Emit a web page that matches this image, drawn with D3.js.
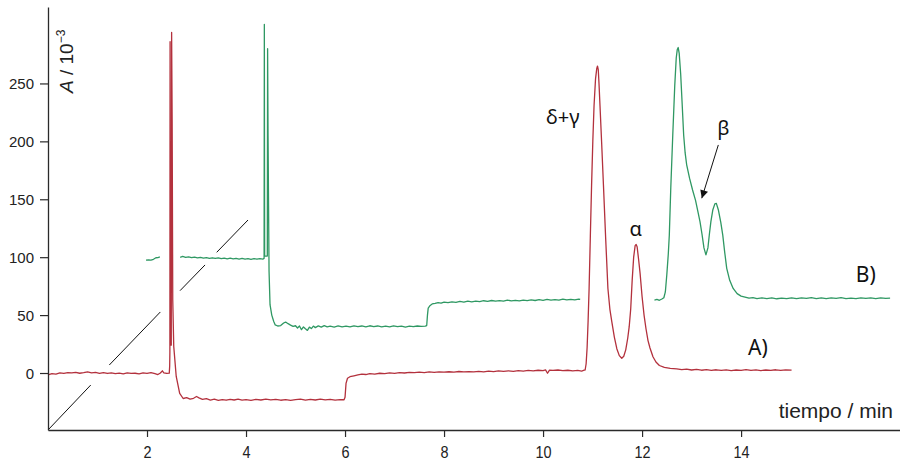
<!DOCTYPE html>
<html><head><meta charset="utf-8">
<script src="https://cdn.jsdelivr.net/npm/d3@7"></script>
<style>
html,body{margin:0;padding:0;background:#fff;}
svg{display:block;}
</style></head>
<body>
<svg id="chart" width="900" height="464"></svg>
<script>
// ---------- data (time / min, A / 10^-3) ----------
const xTicks = [2, 4, 6, 8, 10, 12, 14];
const yTicks = [0, 50, 100, 150, 200, 250];

const traceA = [
[0.00,-1.6],[0.08,-0.6],[0.16,-0.9],[0.24,0.2],[0.32,-0.3],[0.40,0.4],[0.48,0.1],[0.56,0.6],[0.64,-0.2],[0.72,0.3],[0.80,0.9],[0.88,0.2],[0.96,0.5],[1.04,-0.3],[1.12,0.4],[1.20,-0.4],[1.28,0.1],[1.36,-0.6],[1.44,-0.1],[1.52,-0.8],[1.60,0.2],[1.68,-0.4],[1.76,-0.2],[1.84,-0.7],[1.92,0.1],[2.00,-0.3],[2.08,0.4],[2.16,-0.5],[2.22,-1.3],[2.27,0.0],[2.31,1.9],[2.34,0.2],[2.40,-0.4],[2.45,-0.1],
[2.458,6],[2.462,18],[2.466,286],[2.472,24],[2.490,24],[2.497,294],[2.508,218],[2.520,63],[2.540,23],[2.590,-3],[2.660,-17.5],[2.730,-22],[2.80,-21.3],[2.87,-22.6],[2.94,-21.8],[3.00,-20.3],[3.05,-21.5],[3.12,-22.8],[3.20,-22.1],[3.28,-23.4],[3.36,-22.6],[3.44,-23.6],[3.52,-22.9],[3.60,-23.5],[3.68,-22.7],[3.76,-23.3],[3.84,-22.6],[3.92,-23.4],[4.00,-22.9],[4.10,-23.6],[4.20,-22.8],[4.30,-23.3],[4.40,-22.5],[4.50,-23.2],[4.60,-22.7],[4.70,-23.5],[4.80,-22.9],[4.90,-23.6],[5.00,-23.0],[5.10,-22.6],[5.20,-23.4],[5.30,-22.8],[5.40,-23.3],[5.50,-22.6],[5.60,-23.2],[5.70,-22.7],[5.80,-23.4],[5.90,-22.9],[5.98,-23.1],
[6.00,-21],[6.02,-9],[6.05,-4.5],[6.10,-3.2],[6.18,-2.4],[6.26,-1.6],[6.34,-0.9],[6.42,-1.3],[6.50,-0.5],[6.60,-0.9],[6.70,-0.2],[6.80,-0.6],[6.90,0.1],[7.00,-0.3],[7.10,0.4],[7.20,0.0],[7.30,0.6],[7.40,0.3],[7.50,0.8],[7.60,0.4],[7.70,0.9],[7.80,0.5],[7.90,1.0],[8.00,0.7],[8.10,1.1],[8.20,0.8],[8.30,1.3],[8.40,0.9],[8.50,1.2],[8.60,0.9],[8.70,1.4],[8.80,1.0],[8.90,1.6],[9.00,1.2],[9.10,1.8],[9.20,1.4],[9.30,1.9],[9.40,1.5],[9.50,2.0],[9.60,1.7],[9.70,2.3],[9.80,1.9],[9.90,2.4],[10.00,2.1],[10.05,2.7],[10.09,-0.2],[10.13,2.5],[10.20,2.2],[10.30,2.6],[10.40,2.0],[10.50,2.4],[10.60,1.9],[10.70,2.2],[10.78,1.7],[10.83,2.4],
[10.85,2.6],[10.87,8],[10.89,22],[10.91,45],[10.93,73],[10.955,118],[10.98,162],[11.005,200],[11.03,231],[11.06,254],[11.085,263],[11.10,265],[11.115,262],[11.13,250],[11.15,231],[11.185,197],[11.22,162],[11.265,116],[11.31,73],[11.35,55],[11.39,44],[11.44,31],[11.49,21],[11.54,15],[11.59,12.7],
[11.63,14.5],[11.67,20],[11.71,30],[11.74,40],[11.77,55],[11.80,80],[11.83,100],[11.86,110],[11.88,111],[11.90,109],[11.93,98],[11.96,86],[12.00,66],[12.04,50],[12.08,38],[12.12,28],[12.16,21.6],[12.22,14],[12.28,9.5],[12.35,6.5],[12.45,4.8],[12.57,4.0],
[12.70,3.5],[12.80,2.9],[12.90,3.3],[13.00,2.6],[13.10,3.2],[13.20,2.4],[13.30,2.9],[13.40,2.3],[13.50,2.8],[13.60,2.2],[13.70,2.7],[13.80,2.1],[13.90,2.6],[14.00,2.3],[14.10,2.9],[14.20,2.2],[14.30,2.7],[14.40,2.1],[14.50,2.6],[14.60,2.3],[14.70,2.8],[14.80,2.2],[14.90,2.7],[15.02,2.5]
];

const traceB = [
[1.98,97.4],[2.03,97.6],[2.08,97.5],[2.13,98.2],[2.18,99.5],[2.22,99.7],[2.26,100.3],[2.45,null],
[2.67,99.9],[2.72,100.6],[2.78,99.8],[2.84,100.3],[2.90,99.6],[2.96,100.1],[3.02,99.4],[3.08,99.9],[3.14,99.2],[3.20,99.7],[3.26,99.0],[3.32,99.5],[3.38,98.9],[3.44,99.4],[3.50,98.7],[3.56,99.2],[3.62,98.6],[3.68,99.1],[3.74,98.5],[3.80,99.0],[3.86,98.4],[3.92,98.9],[3.98,98.3],[4.04,98.8],[4.10,98.2],[4.16,98.7],[4.22,98.3],[4.28,98.8],[4.34,98.4],[4.365,98.9],
[4.370,301],[4.376,101],[4.430,101],[4.436,280],[4.445,205],[4.455,145],[4.465,88],[4.485,59],[4.52,50],[4.56,44.5],[4.59,41.5],[4.64,40.6],[4.70,41.0],[4.76,43.2],[4.80,44.0],[4.85,42.6],[4.90,41.4],[4.95,40.3],[5.00,40.8],[5.04,38.9],[5.08,40.6],[5.12,37.4],[5.16,39.8],[5.20,38.2],[5.24,36.8],[5.28,39.6],[5.32,38.4],[5.36,40.5],[5.40,39.2],[5.46,40.7],[5.52,39.6],[5.58,40.9],[5.64,39.8],[5.70,40.4],[5.78,39.7],[5.86,40.6],[5.94,39.9],[6.02,40.5],[6.10,39.8],[6.18,40.7],[6.26,40.0],[6.34,40.6],[6.42,39.9],[6.50,40.8],[6.58,40.1],[6.66,40.6],[6.74,39.8],[6.82,40.4],[6.90,39.9],[6.98,40.7],[7.06,40.1],[7.14,40.5],[7.22,39.7],[7.30,40.4],[7.38,40.0],[7.46,40.6],[7.54,40.2],[7.62,40.5],[7.65,41.0],
[7.665,50],[7.68,56],[7.72,58.3],[7.76,59.6],[7.82,60.1],[7.88,60.8],[7.94,60.3],[8.00,61.2],[8.08,60.7],[8.16,61.5],[8.24,61.0],[8.32,61.8],[8.40,61.2],[8.48,62.1],[8.56,61.5],[8.64,62.0],[8.72,61.6],[8.80,62.4],[8.88,61.9],[8.96,62.6],[9.04,62.0],[9.12,62.5],[9.20,62.1],[9.28,62.9],[9.36,62.3],[9.44,62.8],[9.52,62.2],[9.60,63.0],[9.68,62.5],[9.76,63.1],[9.84,62.6],[9.92,63.3],[10.00,62.8],[10.08,63.5],[10.16,62.9],[10.24,63.4],[10.32,62.9],[10.40,63.7],[10.48,63.1],[10.56,63.6],[10.64,63.2],[10.72,63.8],[10.75,63.5],[11.5,null],
[12.25,63.0],[12.30,63.6],[12.35,62.8],[12.40,63.9],[12.44,65.0],[12.47,70],[12.50,85],[12.53,103],[12.55,119],[12.58,160],[12.62,205.5],[12.66,248],[12.69,272],[12.71,279],[12.73,281],[12.75,276],[12.78,258],[12.81,232],[12.84,205.5],[12.87,190],[12.90,180],[12.96,168],[13.02,158],[13.08,149],[13.13,139],[13.17,130.7],[13.21,120],[13.25,108],[13.29,102],[13.33,108],[13.36,120],[13.39,130.7],[13.43,141],[13.47,146],[13.50,146.5],[13.54,141],[13.59,130],[13.63,119],[13.67,104],[13.71,90.4],[13.77,80],[13.84,73],[13.92,68.5],[14.00,66.4],[14.08,65.6],[14.16,64.6],[14.24,65.1],[14.32,64.3],[14.42,64.9],[14.52,64.2],[14.62,64.8],[14.72,64.1],[14.82,64.7],[14.92,64.3],[15.02,64.9],[15.12,64.2],[15.22,64.8],[15.32,64.4],[15.42,65.0],[15.52,64.3],[15.62,64.9],[15.72,64.2],[15.82,64.8],[15.92,64.4],[16.02,65.0],[16.12,64.3],[16.22,64.7],[16.32,64.2],[16.42,64.9],[16.52,64.4],[16.62,64.8],[16.72,64.3],[16.82,64.9],[16.92,64.4],[17.01,64.6]
];

// broken diagonal offset line: [t0, v0, t1, v1]
const diagSegments = [
[0.000,-49.2,0.863,-10.4],
[1.238,6.9,2.269,52.7],
[2.667,71.1,3.172,93.3],
[3.408,104.2,4.040,132.1]
];

// annotations: [text, t, v]
const peakLabels = [["δ+γ",10.40,221],["α",11.87,124.8],["β",13.64,211.6]];
const traceLabels = [["A)",14.34,22.5],["B)",16.52,85]];
const betaArrow = [13.54,196.9,13.206,150.9];

// ---------- scales ----------
const svg = d3.select("#chart");
const x = d3.scaleLinear().domain([0, 17.21]).range([48, 900]);
const y = d3.scaleLinear().domain([-49.2, 316]).range([430, 7]);

const red = "#b3313d", green = "#2f9863", axisCol = "#2a2a2a";

// diagonal dashes
svg.append("g").selectAll("line").data(diagSegments).join("line")
  .attr("x1", d => x(d[0])).attr("y1", d => y(d[1]))
  .attr("x2", d => x(d[2])).attr("y2", d => y(d[3]))
  .attr("stroke", "#111").attr("stroke-width", 1);

// traces
const line = d3.line().defined(d => d[1] !== null).x(d => x(d[0])).y(d => y(d[1]));
svg.append("path").datum(traceB).attr("d", line)
  .attr("fill", "none").attr("stroke", green).attr("stroke-width", 1.3).attr("stroke-linejoin", "round");
svg.append("path").datum(traceA).attr("d", line)
  .attr("fill", "none").attr("stroke", red).attr("stroke-width", 1.3).attr("stroke-linejoin", "round");

// axes
const yAxis = svg.append("g").attr("transform", "translate(48,0)")
  .call(d3.axisLeft(y).tickValues(yTicks).tickSize(8).tickSizeOuter(0).tickPadding(6));
yAxis.select(".domain").attr("stroke", axisCol).attr("stroke-width", 1.3);
yAxis.selectAll(".tick line").attr("stroke", axisCol).attr("stroke-width", 1.2);
yAxis.selectAll(".tick text").attr("font-family", "'Liberation Sans', Arial, sans-serif")
  .attr("font-size", 15).attr("fill", "#222").attr("x", -14).attr("dy", "0.36em");

const xAxis = svg.append("g").attr("transform", "translate(0,430)")
  .call(d3.axisBottom(x).tickValues(xTicks).tickSize(7).tickSizeOuter(0));
xAxis.select(".domain").attr("stroke", axisCol).attr("stroke-width", 1.3);
xAxis.selectAll(".tick line").attr("stroke", axisCol).attr("stroke-width", 1.2);
xAxis.selectAll(".tick text").attr("font-family", "'Liberation Sans', Arial, sans-serif")
  .attr("font-size", 17).attr("fill", "#222").attr("y", 28).attr("dy", 0)
  .attr("transform", "scale(0.85,1)");

// axis titles
svg.append("text").attr("x", 893).attr("y", 418).attr("text-anchor", "end")
  .attr("font-family", "'Liberation Sans', Arial, sans-serif").attr("font-size", 21)
  .attr("fill", "#222").text("tiempo / min");

const yt = svg.append("text").attr("transform", "translate(73,93) rotate(-90)")
  .attr("font-family", "'Liberation Sans', Arial, sans-serif").attr("font-size", 19).attr("fill", "#222");
yt.append("tspan").attr("font-style", "italic").text("A");
yt.append("tspan").text(" / 10");
yt.append("tspan").attr("font-size", 12).attr("dy", -8).text("−3");

// labels
const labFont = "'Noto Sans', 'Open Sans', sans-serif";
svg.append("g").selectAll("text").data(peakLabels).join("text")
  .attr("x", d => x(d[1])).attr("y", d => y(d[2])).attr("dy", "0.36em")
  .attr("text-anchor", "middle").attr("font-family", labFont).attr("font-size", 20)
  .attr("fill", "#111").text(d => d[0]);
svg.append("g").selectAll("text").data(traceLabels).join("text")
  .attr("x", d => x(d[1])).attr("y", d => y(d[2])).attr("dy", "0.36em")
  .attr("text-anchor", "middle").attr("font-family", labFont).attr("font-size", 21)
  .attr("fill", "#111").text(d => d[0]);

// arrow
svg.append("defs").append("marker").attr("id", "ah").attr("viewBox", "0 0 10 10")
  .attr("refX", 10).attr("refY", 5).attr("markerWidth", 10).attr("markerHeight", 8)
  .attr("markerUnits", "userSpaceOnUse").attr("orient", "auto")
  .append("path").attr("d", "M0,0 L10,5 L0,10 Z").attr("fill", "#111");
svg.append("line")
  .attr("x1", x(betaArrow[0])).attr("y1", y(betaArrow[1]))
  .attr("x2", x(betaArrow[2])).attr("y2", y(betaArrow[3]))
  .attr("stroke", "#111").attr("stroke-width", 1).attr("marker-end", "url(#ah)");
</script>
</body></html>
